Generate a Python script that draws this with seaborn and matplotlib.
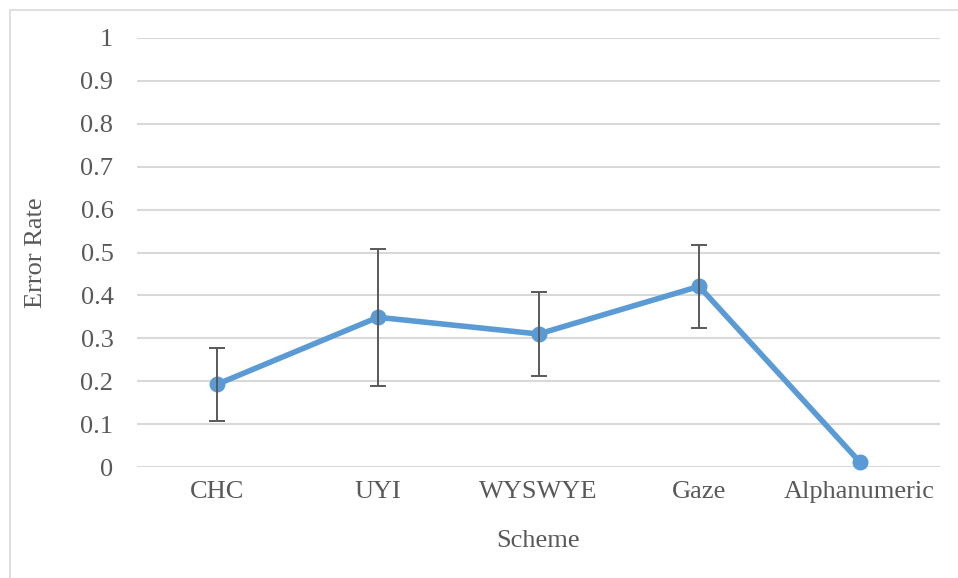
import numpy as np
import pandas as pd
import seaborn as sns
import matplotlib.pyplot as plt
from matplotlib.patches import Rectangle

# values
schemes = ["CHC", "UYI", "WYSWYE", "Gaze", "Alphanumeric"]
error_rate = [0.193, 0.349, 0.310, 0.421, 0.012]
error_bar = [0.085, 0.160, 0.097, 0.097, 0.0]
y_ticks = [0, 0.1, 0.2, 0.3, 0.4, 0.5, 0.6, 0.7, 0.8, 0.9, 1]

df = pd.DataFrame({"Scheme": schemes, "Error Rate": error_rate})

sns.set_style("white")
plt.rcParams['font.family'] = ['Liberation Serif', 'DejaVu Serif']

text_col = "#595959"
line_col = "#5B9BD5"
fs = 19

fig = plt.figure(figsize=(9.58, 5.78), dpi=100)
ax = fig.add_axes([137 / 958, 1 - 467 / 578, (940 - 137) / 958, (467 - 38) / 578])

# horizontal gridlines
for t in y_ticks:
    ax.axhline(t, color="#D9D9D9", lw=1.5, zorder=0)

sns.lineplot(data=df, x="Scheme", y="Error Rate", ax=ax, color=line_col,
             lw=4, marker="o", markersize=11.5, markeredgewidth=0,
             sort=False, zorder=3, clip_on=False)

# error bars only where there is a spread
xs = np.arange(len(schemes))
has_err = np.array(error_bar) > 0
ax.errorbar(xs[has_err], np.array(error_rate)[has_err], yerr=np.array(error_bar)[has_err],
            fmt="none", ecolor="#595959", elinewidth=1.4, capsize=5.5, capthick=1.4,
            zorder=4)

ax.set_xlim(-0.5, len(schemes) - 0.5)
ax.set_ylim(0, 1)
ax.set_yticks(y_ticks)
ax.set_yticklabels([f"{t:g}" for t in y_ticks])
ax.tick_params(axis="y", length=0, pad=17, labelsize=fs, labelcolor=text_col)
ax.tick_params(axis="x", length=0, pad=10, labelsize=fs, labelcolor=text_col)
for s in ax.spines.values():
    s.set_visible(False)

ax.set_xlabel("Scheme", fontsize=fs, color=text_col)
ax.set_ylabel("Error Rate", fontsize=fs, color=text_col)
ax.xaxis.set_label_coords(0.5, -(530 - 467) / 429)
ax.yaxis.set_label_coords(-(137 - 47) / 803, 0.5)

# outer chart border (top and left visible)
fig.patches.append(Rectangle((9.5 / 958, -0.05), 1.2, 1.05 - 9.5 / 578,
                             transform=fig.transFigure, fill=False,
                             edgecolor="#D9D9D9", lw=1.2))

fig.savefig("out.png", dpi=100)
